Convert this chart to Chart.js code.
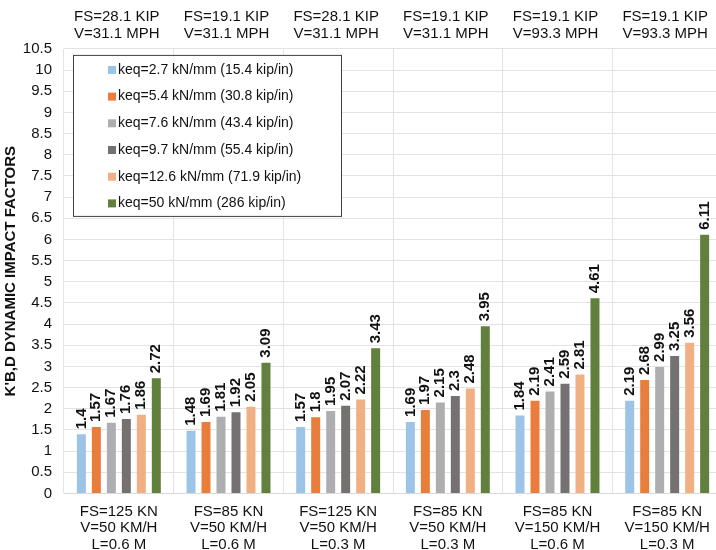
<!DOCTYPE html>
<html>
<head>
<meta charset="utf-8">
<script src="https://cdn.jsdelivr.net/npm/chart.js@4.4.1/dist/chart.umd.min.js"></script>
<style>
  html,body{margin:0;padding:0;background:#fff;overflow:hidden}
  #wrap{width:722px;height:563px;position:relative}
</style>
</head>
<body>
<div id="wrap"><canvas id="chart"></canvas></div>
<script>
// categorias (eixo de baixo, SI) e eixo de cima (unidades US)
const categories = [
  ['FS=125 KN','V=50 KM/H','L=0.6 M'],
  ['FS=85 KN','V=50 KM/H','L=0.6 M'],
  ['FS=125 KN','V=50 KM/H','L=0.3 M'],
  ['FS=85 KN','V=50 KM/H','L=0.3 M'],
  ['FS=85 KN','V=150 KM/H','L=0.6 M'],
  ['FS=85 KN','V=150 KM/H','L=0.3 M']
];
const topLabels = [
  ['FS=28.1 KIP','V=31.1 MPH'],
  ['FS=19.1 KIP','V=31.1 MPH'],
  ['FS=28.1 KIP','V=31.1 MPH'],
  ['FS=19.1 KIP','V=31.1 MPH'],
  ['FS=19.1 KIP','V=93.3 MPH'],
  ['FS=19.1 KIP','V=93.3 MPH']
];
const seriesNames = [
  'keq=2.7 kN/mm (15.4 kip/in)',
  'keq=5.4 kN/mm (30.8 kip/in)',
  'keq=7.6 kN/mm (43.4 kip/in)',
  'keq=9.7 kN/mm (55.4 kip/in)',
  'keq=12.6 kN/mm (71.9 kip/in)',
  'keq=50 kN/mm (286 kip/in)'
];
const keq27  = [1.4, 1.48, 1.57, 1.69, 1.84, 2.19];
const keq54  = [1.57, 1.69, 1.8, 1.97, 2.19, 2.68];
const keq76  = [1.67, 1.81, 1.95, 2.15, 2.41, 2.99];
const keq97  = [1.76, 1.92, 2.07, 2.3, 2.59, 3.25];
const keq126 = [1.86, 2.05, 2.22, 2.48, 2.81, 3.56];
const keq50  = [2.72, 3.09, 3.43, 3.95, 4.61, 6.11];
const colors = ['#9DC3E6','#E97E3C','#AEADAF','#767171','#F1B084','#617F3D'];

const allSeries = [keq27, keq54, keq76, keq97, keq126, keq50];
const FONT = "'Liberation Sans', Arial, sans-serif";

// rótulos de valor verticais acima das barras
const valueLabels = {
  id:'valueLabels',
  afterDatasetsDraw(chart){
    const ctx = chart.ctx;
    ctx.save();
    ctx.font = 'bold 15px ' + FONT;
    ctx.fillStyle = '#111';
    ctx.textAlign = 'left';
    ctx.textBaseline = 'middle';
    chart.data.datasets.forEach((ds,i)=>{
      chart.getDatasetMeta(i).data.forEach((bar,j)=>{
        ctx.save();
        ctx.translate(bar.x, bar.y - 5);
        ctx.rotate(-Math.PI/2);
        ctx.fillText(String(ds.data[j]), 0, 0);
        ctx.restore();
      });
    });
    ctx.restore();
  }
};

// legenda dentro da área do gráfico
const boxLegend = {
  id:'boxLegend',
  afterDraw(chart){
    const ctx = chart.ctx, a = chart.chartArea;
    const x0 = a.left + 9, y0 = a.top + 6, w = 268, h = 161;
    ctx.save();
    ctx.fillStyle = '#fff';
    ctx.fillRect(x0, y0, w, h);
    ctx.strokeStyle = '#404040';
    ctx.lineWidth = 1;
    ctx.strokeRect(x0 + 0.5, y0 + 0.5, w, h);
    ctx.font = '14px ' + FONT;
    ctx.textBaseline = 'middle';
    chart.data.datasets.forEach((ds,i)=>{
      const y = y0 + 15 + i*26.7;
      ctx.fillStyle = ds.backgroundColor;
      ctx.fillRect(x0 + 35, y - 4, 8, 8);
      ctx.fillStyle = '#111';
      ctx.fillText(ds.label, x0 + 45, y);
    });
    ctx.restore();
  }
};

// sem folga extra lateral vinda dos rótulos do eixo x
const noSidePad = s => { s.paddingLeft = 0; s.paddingRight = 0; };

new Chart(document.getElementById('chart'),{
  type:'bar',
  data:{
    labels:categories,
    datasets:allSeries.map((d,i)=>({
      label:seriesNames[i],
      data:d,
      backgroundColor:colors[i],
      categoryPercentage:0.82,
      barPercentage:0.6
    }))
  },
  options:{
    responsive:true,
    maintainAspectRatio:false,
    animation:false,
    layout:{padding:{left:2,right:0,top:1,bottom:0}},
    plugins:{legend:{display:false},tooltip:{enabled:false}},
    scales:{
      x:{
        position:'bottom',
        afterFit:noSidePad,
        grid:{color:'#e3e3e3',offset:true,drawTicks:false},
        border:{color:'#d9d9d9'},
        ticks:{font:{family:FONT,size:15,lineHeight:1.1},color:'#111',maxRotation:0,autoSkip:false,padding:10}
      },
      x2:{
        type:'category',
        position:'top',
        labels:topLabels,
        afterFit:noSidePad,
        grid:{display:false,drawTicks:false},
        border:{display:false},
        ticks:{font:{family:FONT,size:15,lineHeight:1.13},color:'#111',maxRotation:0,autoSkip:false,labelOffset:-2,padding:7}
      },
      y:{
        min:0,max:10.5,
        afterFit:s=>{ s.width = 62; },
        grid:{color:'#e3e3e3',drawTicks:false},
        border:{display:false},
        ticks:{stepSize:0.5,autoSkip:false,font:{family:FONT,size:15},color:'#111',padding:12,
          callback:v=>String(Math.round(v*10)/10)},
        title:{display:true,text:"K'B,D DYNAMIC IMPACT FACTORS",font:{family:FONT,size:15,weight:'bold'},color:'#111',padding:{top:0,bottom:1}}
      }
    }
  },
  plugins:[valueLabels, boxLegend]
});
</script>
</body>
</html>
